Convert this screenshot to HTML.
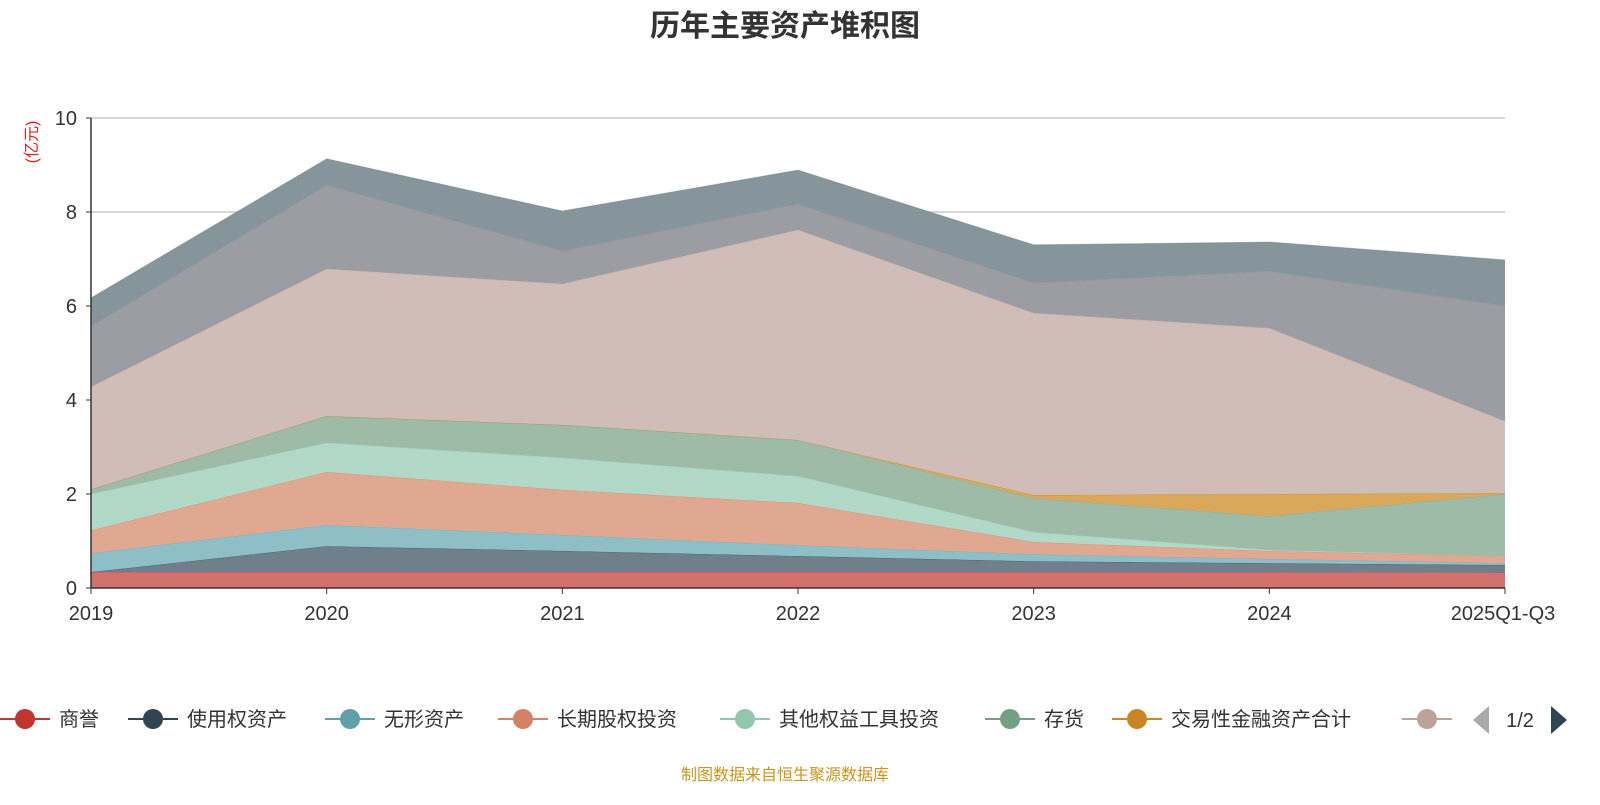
<!DOCTYPE html>
<html><head><meta charset="utf-8"><style>
body{margin:0;background:#fff;font-family:"Liberation Sans","Noto Sans CJK SC",sans-serif;}
svg text{font-family:"Liberation Sans","Noto Sans CJK SC",sans-serif;}
</style></head><body>
<svg id="chart" width="1600" height="800" xmlns="http://www.w3.org/2000/svg">
<text x="785" y="36" text-anchor="middle" font-size="30" font-weight="bold" fill="#333">历年主要资产堆积图</text>
<text transform="translate(37,142) rotate(-90)" text-anchor="middle" font-size="16" fill="#e02020">(亿元)</text>
<g id="grid"></g><g id="areas"></g><g id="axes"></g><g id="legend"></g>
<text x="785" y="780" text-anchor="middle" font-size="16" fill="#c8951e">制图数据来自恒生聚源数据库</text>
</svg>
<script>
const categories=["2019","2020","2021","2022","2023","2024","2025Q1-Q3"];
const seriesNames=["商誉","使用权资产","无形资产","长期股权投资","其他权益工具投资","存货","交易性金融资产合计","其他资产1","其他资产2","其他资产3"];
const s1=[0.34,0.34,0.34,0.34,0.34,0.34,0.33];
const s2=[0.0,0.55,0.45,0.34,0.23,0.19,0.16];
const s3=[0.40,0.45,0.34,0.23,0.15,0.09,0.04];
const s4=[0.49,1.13,0.96,0.90,0.26,0.17,0.15];
const s5=[0.77,0.62,0.68,0.57,0.21,0.02,0.0];
const s6=[0.10,0.57,0.70,0.77,0.72,0.72,1.32];
const s7=[0.0,0.0,0.0,0.0,0.07,0.47,0.02];
const s8=[2.18,3.13,3.00,4.47,3.87,3.53,1.53];
const s9=[1.29,1.78,0.70,0.55,0.64,1.21,2.45];
const s10=[0.60,0.56,0.85,0.72,0.81,0.62,0.98];
const yTicks=[0,2,4,6,8,10];
const series=[s1,s2,s3,s4,s5,s6,s7,s8,s9,s10];
const fills=["#d4706e","#6f7f8b","#8fbfc6","#e0a791","#b2d8c8","#9dbba7","#d9a85a","#d0bdb7","#9c9da2","#86959b"];
const strokes=["#c23531","#2f4554","#61a0a8","#d48265","#91c7ae","#749f83","#ca8622","#bda29a","#8a8b90","#6e7f86"];
const NS="http://www.w3.org/2000/svg";
const X0=91,X1=1505,Y0=588,Y1=118,YMAX=10;
const xs=i=>X0+(X1-X0)*i/(categories.length-1);
const ys=v=>Y0-(Y0-Y1)*v/YMAX;
function mk(t,a,p){const e=document.createElementNS(NS,t);for(const k in a)e.setAttribute(k,a[k]);p.appendChild(e);return e;}
const grid=document.getElementById('grid'),areas=document.getElementById('areas'),axes=document.getElementById('axes'),legend=document.getElementById('legend');
yTicks.forEach(t=>{
  if(t>0){const l=mk('line',{x1:X0,x2:X1,y1:ys(t),y2:ys(t),stroke:'#c8c8c8','stroke-width':1.5},grid);
  
  }
  const tx=mk('text',{x:X0-14,y:ys(t)+7,'text-anchor':'end','font-size':20,fill:'#333'},axes);tx.textContent=t;
  
  
  mk('line',{x1:X0-5,x2:X0,y1:ys(t),y2:ys(t),stroke:'#333'},axes);
});
let base=categories.map(()=>0);
series.forEach((s,k)=>{
  const top=base.map((b,i)=>b+s[i]);
  let d='M'+top.map((v,i)=>xs(i)+','+ys(v)).join('L');
  for(let i=base.length-1;i>=0;i--)d+='L'+xs(i)+','+ys(base[i]);
  const p=mk('path',{d:d+'Z',fill:fills[k],stroke:'none'},areas);
  
  
  const ln=mk('polyline',{points:top.map((v,i)=>xs(i)+','+ys(v)).join(' '),fill:'none',stroke:strokes[k],'stroke-width':1,'stroke-opacity':0.5},areas);
  
  
  base=top;
});
mk('line',{x1:X0,x2:X0,y1:Y1,y2:Y0,stroke:'#333','stroke-width':1.5},axes);
mk('line',{x1:X0,x2:X1,y1:Y0,y2:Y0,stroke:'#333','stroke-width':1.5},axes);
categories.forEach((c,i)=>{
  mk('line',{x1:xs(i),x2:xs(i),y1:Y0,y2:Y0+6,stroke:'#333'},axes);
  const t=mk('text',{x:i==categories.length-1?xs(i)-2:xs(i),y:620,'text-anchor':i==categories.length-1?'start':'middle','font-size':20,fill:'#333'},axes);
  if(i==categories.length-1){t.setAttribute('text-anchor','middle');}
  t.textContent=c;
  
  
});
const legX=[0,128,325,498,720,985,1112,1402];
for(let k=0;k<8;k++){
  const g=mk('g',{},legend);
  
  
  const x=legX[k];
  mk('line',{x1:x,x2:x+50,y1:719,y2:719,stroke:strokes[k],'stroke-width':2},g);
  mk('circle',{cx:x+25,cy:719,r:10,fill:strokes[k]},g);
  if(k<7){const t=mk('text',{x:x+59,y:726,'font-size':20,fill:'#333'},g);t.textContent=seriesNames[k];}
}
const pg=mk('g',{},legend);


mk('polygon',{points:'1489,706 1489,734 1473,720',fill:'#aaa'},pg);
const pt=mk('text',{x:1520,y:727,'text-anchor':'middle','font-size':20,fill:'#333'},pg);pt.textContent='1/2';
mk('polygon',{points:'1551,706 1551,734 1567,720',fill:'#2f4554'},pg);
</script>
</body></html>
